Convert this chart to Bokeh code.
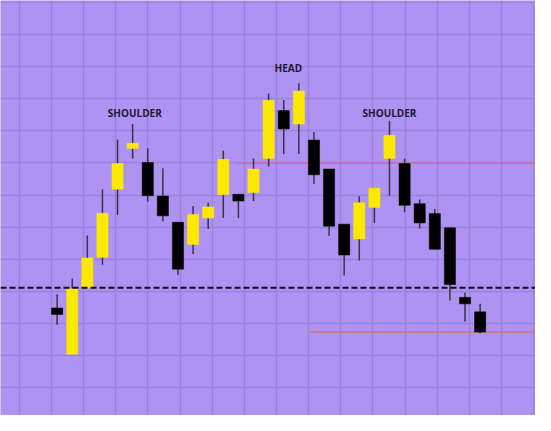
from bokeh.plotting import figure
from bokeh.models import Range1d, Grid, FixedTicker, ColumnDataSource, Span
from bokeh.core.properties import value
from bokeh.embed import file_html
from bokeh.resources import INLINE

# ---- data ----
opens  = [124.8, 110.4, 131.0, 140.6, 161.8, 174.5, 170.1, 159.7, 151.5, 144.6,
          152.8, 160.1, 160.2, 160.8, 171.4, 186.3, 182.1, 177.1, 168.1, 150.9,
          146.3, 156.1, 171.4, 169.8, 157.3, 154.2, 149.8, 128.1, 123.6]
highs  = [129.1, 133.9, 147.4, 161.8, 177.3, 182.1, 174.6, 168.3, 151.5, 156.6,
          157.6, 173.8, 160.2, 171.3, 191.6, 189.6, 194.8, 179.6, 168.1, 150.9,
          159.6, 162.1, 183.1, 171.3, 158.6, 155.6, 149.8, 129.6, 126.1]
lows   = [119.6, 110.4, 131.0, 138.3, 153.8, 171.3, 157.9, 151.8, 135.1, 141.6,
          149.4, 152.8, 152.8, 158.1, 168.9, 172.8, 172.8, 163.4, 147.3, 134.9,
          139.6, 151.3, 159.8, 154.6, 149.6, 143.1, 127.1, 120.6, 116.9]
closes = [122.8, 130.8, 140.4, 154.3, 169.8, 176.1, 159.8, 153.5, 136.9, 153.9,
          156.3, 171.1, 158.1, 168.1, 189.5, 180.6, 192.4, 166.3, 150.3, 141.3,
          157.6, 162.1, 178.6, 156.8, 151.3, 143.1, 132.1, 126.1, 117.3]

neckline = 131.1
resistance_level = 169.9
resistance_start = 12.0
target_level = 117.3
target_start = 16.7

labels = ["SHOULDER", "HEAD", "SHOULDER"]
label_x = [5.14, 15.3, 22.0]
label_y = [185.4, 199.6, 185.4]

# ---- styling ----
BG = "#ae93f2"
GRID = "#9c82df"
BULL = "#ffe800"
BEAR = "#000000"
WICK = "#3a3346"

idx = list(range(len(opens)))
colors = [BULL if c >= o else BEAR for o, c in zip(opens, closes)]
src = ColumnDataSource(dict(
    x=idx,
    top=[max(o, c) for o, c in zip(opens, closes)],
    bottom=[min(o, c) for o, c in zip(opens, closes)],
    high=highs, low=lows, color=colors,
))

p = figure(width=535, height=415, output_backend="svg", toolbar_location=None,
           x_axis_type=None, y_axis_type=None,
           x_range=Range1d(-3.747, 31.664), y_range=Range1d(91.3, 220.6),
           min_border=0, min_border_left=0, min_border_right=0,
           min_border_top=0, min_border_bottom=0)
p.background_fill_color = BG
p.border_fill_color = BG
p.outline_line_color = None

xticks = [-2.494 + 2.1272 * k for k in range(18)]
yticks = [100 + 10 * k for k in range(13)]
p.add_layout(Grid(dimension=0, ticker=FixedTicker(ticks=xticks),
                  grid_line_color=GRID, grid_line_width=1.5))
p.add_layout(Grid(dimension=1, ticker=FixedTicker(ticks=yticks),
                  grid_line_color=GRID, grid_line_width=1.5))

# horizontal levels
p.segment(x0=[resistance_start, target_start], x1=[40, 40],
          y0=[resistance_level, target_level], y1=[resistance_level, target_level],
          line_color="#e0705a", line_width=1.5, line_alpha=0.85)
p.add_layout(Span(location=neckline, dimension="width", line_color="#111111",
                  line_width=2, line_dash="6 3"))

# candles
p.segment(x0="x", x1="x", y0="low", y1="high", source=src,
          line_color=WICK, line_width=1.5)
p.vbar(x="x", width=0.74, top="top", bottom="bottom", source=src,
       fill_color="color", line_color="color", line_width=0.5)

p.text(x=label_x, y=label_y, text=labels, text_align="center",
       text_baseline="middle", text_font=value("Open Sans"),
       text_font_style="bold", text_font_size="10px", text_color="#1c1a2e")

open("out.html", "w").write(file_html(p, INLINE))
